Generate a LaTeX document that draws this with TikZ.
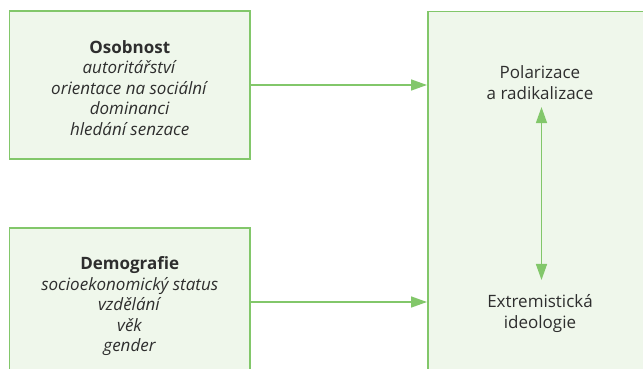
\documentclass[tikz,border=0pt]{standalone}
\usepackage{fontspec}
\setmainfont{Open Sans}
\usetikzlibrary{arrows.meta}
\definecolor{gline}{HTML}{82C76A}
\definecolor{gfill}{HTML}{EFF7EB}
\definecolor{txt}{HTML}{2E2E2E}
\tikzset{
  box/.style={draw=gline, fill=gfill, line width=1.5pt, inner sep=0pt},
  lbl/.style={text=txt, align=center, font=\fontsize{17}{20.5}\selectfont, inner sep=2pt},
  link/.style={draw=gline, line width=1.5pt, -{Triangle[length=16pt,width=11pt]}},
  both/.style={draw=gline, line width=1.5pt, {Triangle[length=16pt,width=11pt]}-{Triangle[length=16pt,width=11pt]}}
}
\begin{document}
\begin{tikzpicture}[x=1pt,y=-1pt]
\useasboundingbox (0,0) rectangle (643,369);
\clip (0,0) rectangle (643,369);
\node[box, minimum width=240.5pt, minimum height=148pt] (pers) at (129.75,85) {};
\node[box, minimum width=240.5pt, minimum height=148pt] (demo) at (129.75,302) {};
\node[box, minimum width=240pt, minimum height=380pt, anchor=north west] (out) at (427,11) {};
\node[lbl] (perst) at (129.75,87.9)
  {\textbf{Osobnost}\\ \textit{autoritářství}\\ \textit{orientace na sociální}\\ \textit{dominanci}\\ \textit{hledání senzace}};
\node[lbl] (demot) at (129.75,306.5)
  {\textbf{Demografie}\\ \textit{socioekonomický status}\\ \textit{vzdělání}\\ \textit{věk}\\ \textit{gender}};
\node[lbl] (pol) at (540,82.4) {Polarizace\\a radikalizace};
\node[lbl] (ext) at (540,313.4) {Extremistická\\ideologie};
\draw[link] (pers.east) -- (pers.east -| out.west);
\draw[link] (demo.east) -- (demo.east -| out.west);
\draw[both, shorten <=5.7pt, shorten >=12.4pt] ([xshift=1.5pt]pol.south) -- ([xshift=1.5pt]ext.north);
\end{tikzpicture}
\end{document}
